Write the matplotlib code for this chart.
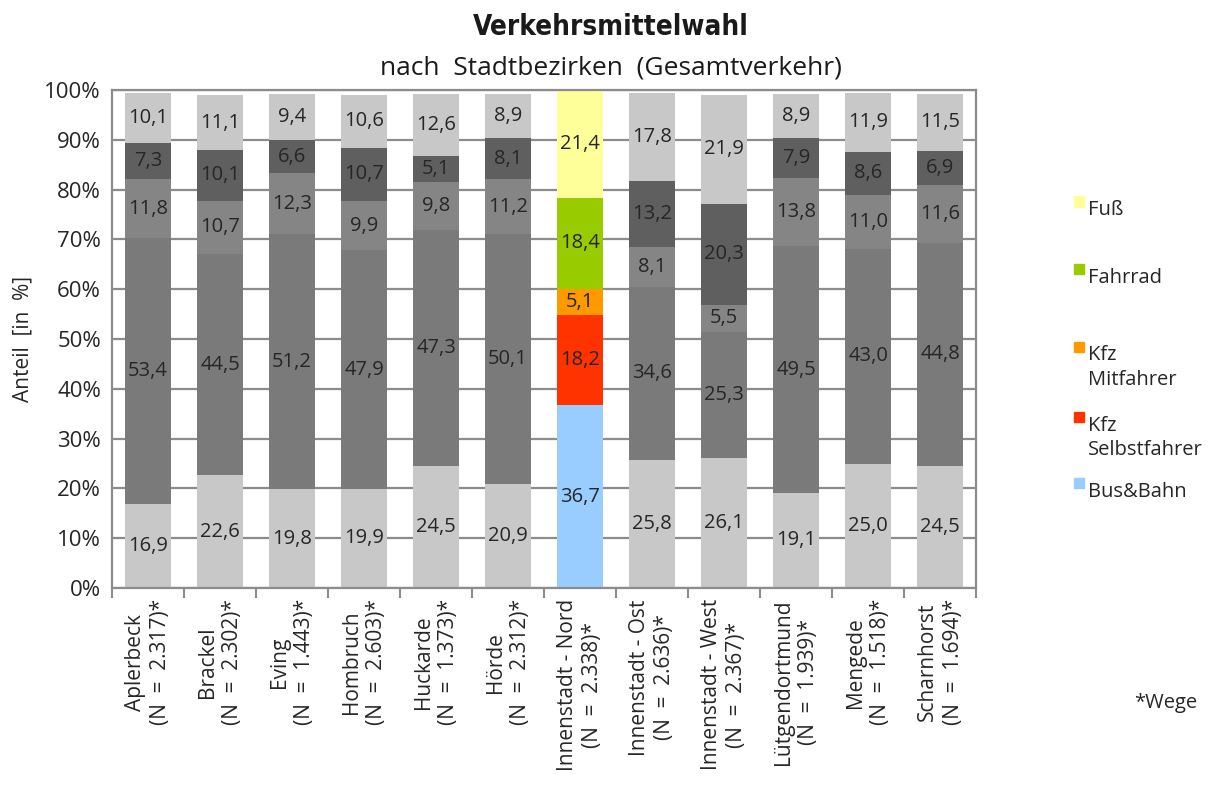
import matplotlib
matplotlib.use("Agg")
import matplotlib.pyplot as plt
from matplotlib.patches import Rectangle
import numpy as np

plt.rcParams['font.family'] = ['Open Sans', 'DejaVu Sans']

districts = ['Aplerbeck', 'Brackel', 'Eving', 'Hombruch', 'Huckarde', 'Hörde',
             'Innenstadt - Nord', 'Innenstadt - Ost', 'Innenstadt - West',
             'Lütgendortmund', 'Mengede', 'Scharnhorst']
sample_n = ['2.317', '2.302', '1.443', '2.603', '1.373', '2.312',
            '2.338', '2.636', '2.367', '1.939', '1.518', '1.694']

modes = ['Bus&Bahn', 'Kfz\nSelbstfahrer', 'Kfz\nMitfahrer', 'Fahrrad', 'Fuß']
bus_bahn = [16.9, 22.6, 19.8, 19.9, 24.5, 20.9, 36.7, 25.8, 26.1, 19.1, 25.0, 24.5]
selbstfahrer = [53.4, 44.5, 51.2, 47.9, 47.3, 50.1, 18.2, 34.6, 25.3, 49.5, 43.0, 44.8]
mitfahrer = [11.8, 10.7, 12.3, 9.9, 9.8, 11.2, 5.1, 8.1, 5.5, 13.8, 11.0, 11.6]
fahrrad = [7.3, 10.1, 6.6, 10.7, 5.1, 8.1, 18.4, 13.2, 20.3, 7.9, 8.6, 6.9]
fuss = [10.1, 11.1, 9.4, 10.6, 12.6, 8.9, 21.4, 17.8, 21.9, 8.9, 11.9, 11.5]

highlight = 'Innenstadt - Nord'
mode_colors = ['#99ccff', '#ff3300', '#ff9900', '#99cc00', '#ffff99']
gray_colors = ['#c8c8c8', '#7a7a7a', '#858585', '#5f5f5f', '#c8c8c8']

series = [bus_bahn, selbstfahrer, mitfahrer, fahrrad, fuss]

fig = plt.figure(figsize=(12.10, 7.87), dpi=100)
ax = fig.add_axes([0.0926, 0.2528, 0.7141, 0.6328])

x = np.arange(len(districts))
bottom = np.zeros(len(districts))
for vals, col, gcol in zip(series, mode_colors, gray_colors):
    vals = np.array(vals)
    colors = [col if d == highlight else gcol for d in districts]
    ax.bar(x, vals, bottom=bottom, width=0.64, color=colors, zorder=2)
    for xi, b, v in zip(x, bottom, vals):
        ax.text(xi, b + v / 2, f'{v:.1f}'.replace('.', ','), ha='center', va='center',
                fontsize=14.5, color='#262626', zorder=3)
    bottom += vals

ax.set_xlim(-0.5, len(districts) - 0.5)
ax.set_ylim(0, 100)
ax.set_yticks(np.arange(0, 101, 10))
ax.set_yticklabels([f'{v}%' for v in range(0, 101, 10)], fontsize=16, color='#262626')
ax.tick_params(axis='y', length=0, pad=8)
ax.yaxis.grid(True, color='#8c8c8c', linewidth=1.6, zorder=0)
ax.set_axisbelow(True)

ax.set_xticks(np.arange(-0.5, len(districts), 1))
ax.set_xticklabels([])
ax.tick_params(axis='x', which='major', length=7, width=1.5, color='#8c8c8c')
ax.set_xticks(x, minor=True)
ax.set_xticklabels([f'{d}\n(N  =  {n})*' for d, n in zip(districts, sample_n)], minor=True,
                   rotation=90, fontsize=15, color='#262626', multialignment='center',
                   linespacing=1.3)
ax.tick_params(axis='x', which='minor', length=0, pad=8)

for s in ax.spines.values():
    s.set_color('#8c8c8c')
    s.set_linewidth(1.6)

ax.set_ylabel('Anteil  [in  %]', fontsize=15, color='#262626', labelpad=8)

fig.text(0.505, 0.966, 'Verkehrsmittelwahl', ha='center', va='center', fontsize=20,
         fontweight='bold', fontstretch='condensed', family=['DejaVu Sans'], color='#1a1a1a')
fig.text(0.505, 0.913, 'nach  Stadtbezirken  (Gesamtverkehr)', ha='center', va='center',
         fontsize=19, color='#1a1a1a')

# legend on the right, top entry first
legend_y = [0.716, 0.630, 0.531, 0.442, 0.358]
for name, col, ly in zip(modes[::-1], mode_colors[::-1], legend_y):
    fig.patches.append(Rectangle((0.8876, ly + 0.0215), 0.0085, 0.013, transform=fig.transFigure,
                                 color=col, figure=fig))
    fig.text(0.8995, ly + 0.030, name, ha='left', va='top', fontsize=14.5, color='#262626',
             linespacing=1.3)

fig.text(0.9375, 0.107, '*Wege', ha='left', va='center', fontsize=14.5, color='#262626')

fig.savefig('out.png', dpi=100)
